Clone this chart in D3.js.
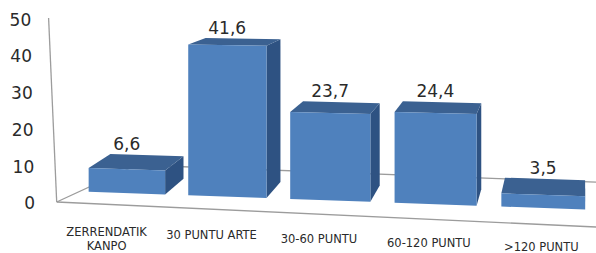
<!DOCTYPE html>
<html>
<head>
<meta charset="utf-8">
<script src="https://cdn.jsdelivr.net/npm/d3@7"></script>
<style>
  html, body { margin: 0; padding: 0; background: #fff; }
  svg { display: block; font-family: "DejaVu Sans", Verdana, sans-serif; }
</style>
</head>
<body>
<div id="chart"></div>
<script>
// data
const categories = ['ZERRENDATIK\nKANPO', '30 PUNTU ARTE', '30-60 PUNTU', '60-120 PUNTU', '>120 PUNTU']
const values = [6.6, 41.6, 23.7, 24.4, 3.5]
const valueLabels = ['6,6', '41,6', '23,7', '24,4', '3,5']
const ticks = [0, 10, 20, 30, 40, 50]

const width = 596, height = 253

// colours
const colors = {
  front: '#4f81bd',
  top: '#3b6191',
  side: '#2e5282',
  axis: '#9c9c9c',
  text: '#2a2a2a'
}

// category slots in unit space, then warped a bit for the perspective look
const xBand = d3.scaleBand()
  .domain(d3.range(categories.length))
  .range([0, categories.length])
  .paddingInner(0.23)
  .paddingOuter(0.115)

const warp = u => 126.7 + 99.3 * (u - 0.5) + 1.2 * (u - 0.5) * (u - 0.5)

// value -> bar height on the front plane
const hScale = d3.scaleLinear().domain([0, 50]).range([0, 179])

// value -> tick label position on the left edge
const tickScale = d3.scaleLinear().domain([0, 50]).range([203.3, 19.5])

// perspective helpers
const baseY = x => 191.7 + 0.036 * (x - 89.3)          // floor line under the bar fronts
const gain = x => 1 + 0.000126 * (x - 89)               // nearer side looks a bit taller
const topY = (x, v) => baseY(x) - hScale(v) * gain(x)
const toBack = p => [p[0] + 0.044 * (583 - p[0]), p[1] - 0.062 * (p[1] + 60)]

const svg = d3.select('#chart').append('svg')
  .attr('width', width)
  .attr('height', height)
  .attr('viewBox', `0 0 ${width} ${height}`)

const line = d3.line()
const poly = pts => line(pts) + 'Z'

// floor + left edge
const floor = {
  frontLeft: [56.7, 202],
  frontRight: [596, 227],
  backLeft: [137, 165],
  backRight: [596, 182.2]
}

const frame = svg.append('g')
  .attr('fill', 'none')
  .attr('stroke', colors.axis)
  .attr('stroke-width', 1.3)

frame.append('path').attr('d', line([floor.frontLeft, floor.frontRight]))
frame.append('path').attr('d', line([floor.frontLeft, floor.backLeft, floor.backRight]))
frame.append('path').attr('d', line([[48.6, 18], floor.frontLeft]))

// tick labels
svg.append('g')
  .selectAll('text')
  .data(ticks)
  .join('text')
    .attr('x', d => 35 - d * 0.075)
    .attr('y', d => tickScale(d))
    .attr('dy', '0.36em')
    .attr('text-anchor', 'end')
    .attr('font-size', 17)
    .attr('fill', colors.text)
    .text(d => d)

// bars
const bars = svg.append('g')
  .selectAll('g')
  .data(values)
  .join('g')

bars.each(function(v, i) {
  const g = d3.select(this)
  const xl = warp(xBand(i)),
    xr = warp(xBand(i) + xBand.bandwidth())

  const bl = [xl, baseY(xl)], br = [xr, baseY(xr)],
    tl = [xl, topY(xl, v)], tr = [xr, topY(xr, v)]

  // side face
  g.append('path')
    .attr('d', poly([br, tr, toBack(tr), toBack(br)]))
    .attr('fill', colors.side)

  // top face
  g.append('path')
    .attr('d', poly([tl, tr, toBack(tr), toBack(tl)]))
    .attr('fill', colors.top)

  // front face
  g.append('path')
    .attr('d', poly([bl, br, tr, tl]))
    .attr('fill', colors.front)
})

// value labels
svg.append('g')
  .selectAll('text')
  .data(values)
  .join('text')
    .attr('x', (d, i) => warp(xBand(i) + xBand.bandwidth() / 2))
    .attr('y', (d, i) => {
      const c = warp(xBand(i) + xBand.bandwidth() / 2)
      return toBack([c, topY(c, d)])[1] - 5
    })
    .attr('text-anchor', 'middle')
    .attr('font-size', 17)
    .attr('fill', colors.text)
    .text((d, i) => valueLabels[i])

// category labels, pushed toward the viewer
svg.append('g')
  .selectAll('text')
  .data(categories)
  .join('text')
    .attr('text-anchor', 'middle')
    .attr('font-size', 11.5)
    .attr('fill', colors.text)
    .each(function(d, i) {
      const c = warp(xBand(i) + xBand.bandwidth() / 2)
      const x = c - 0.044 * (583 - c),
        y = baseY(c) + 42.5
      d3.select(this).selectAll('tspan')
        .data(d.split('\n'))
        .join('tspan')
          .attr('x', x)
          .attr('y', (s, j) => y + j * 14.5)
          .text(s => s)
    })
</script>
</body>
</html>
